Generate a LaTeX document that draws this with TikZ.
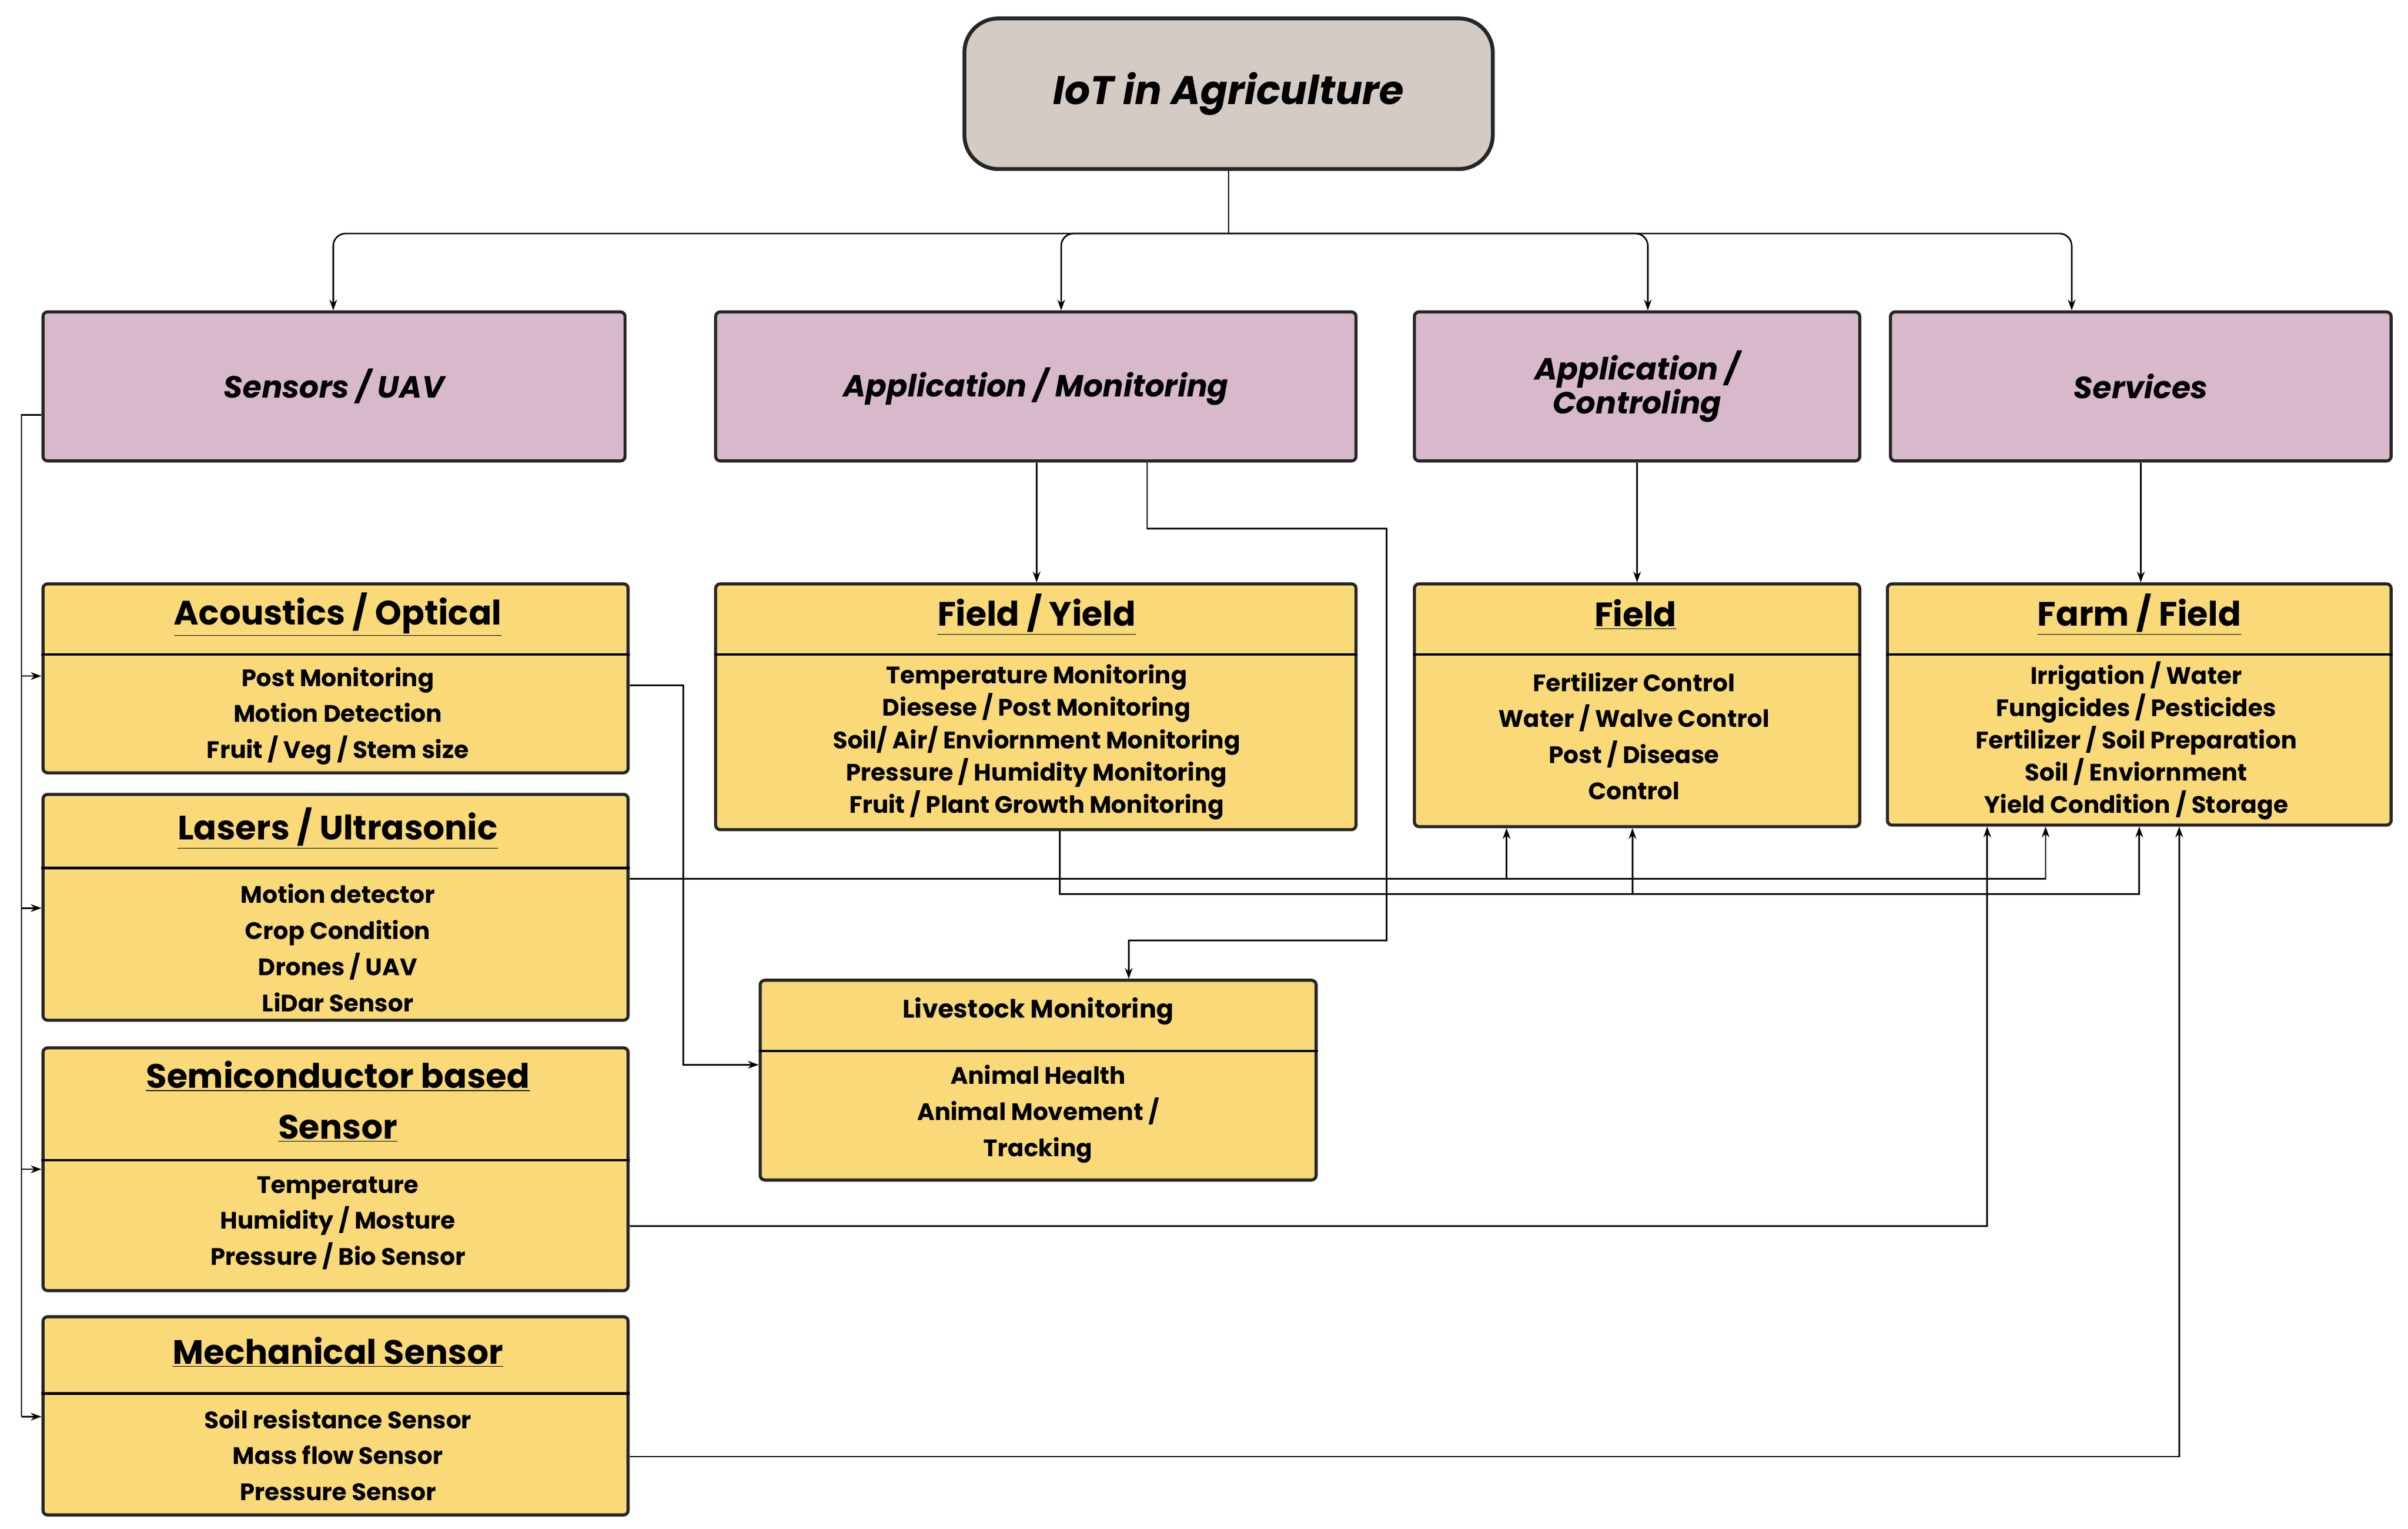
\documentclass[tikz,border=0pt]{standalone}
\usepackage{fontspec}
\setmainfont{Poppins}
\usetikzlibrary{arrows.meta}
\definecolor{yel}{HTML}{FAD978}
\definecolor{pur}{HTML}{D8B9CC}
\definecolor{gry}{HTML}{D3CBC4}
\begin{document}
\begin{tikzpicture}[x=1pt,y=-1pt,
 box/.style={draw=black!85,line width=2pt,rounded corners=3pt,inner sep=0},
 ybox/.style={box,fill=yel},
 pbox/.style={box,fill=pur},
 ptxt/.style={font=\fontsize{20}{22}\selectfont\bfseries\itshape,align=center},
 htxt/.style={font=\fontsize{22}{30}\selectfont\bfseries,align=center},
 btxt/.style={font=\fontsize{15.5}{23.5}\selectfont\bfseries,align=center},
 arr/.style={-{Stealth[length=7pt,width=5pt]},line width=1pt},
 ln/.style={line width=1pt}]
\useasboundingbox (0,0) rectangle (1568,995);
% root
\node[box,fill=gry,line width=2.5pt,rounded corners=22pt,minimum width=344,minimum height=98] (root) at (800,61) {};
\node[font=\fontsize{26}{28}\selectfont\bfseries\itshape] at (root) {IoT in Agriculture};
% purple
\node[pbox,minimum width=379,minimum height=97] (sen) at (217.5,251.5) {};
\node[ptxt] at (sen) {Sensors / UAV};
\node[pbox,minimum width=417,minimum height=97] (apm) at (674.5,251.5) {};
\node[ptxt] at (apm) {Application / Monitoring};
\node[pbox,minimum width=290,minimum height=97] (apc) at (1066,251.5) {};
\node[ptxt] at (apc) {Application /\\Controling};
\node[pbox,minimum width=326,minimum height=97] (srv) at (1394,251.5) {};
\node[ptxt] at (srv) {Services};
% yellow boxes
\node[ybox,minimum width=381,minimum height=123] (ac) at (218.5,441.5) {};
\draw[ln,line width=1.6pt] (ac.west |- 0,426) -- (ac.east |- 0,426);
\node[htxt] at (220,400) {\underline{Acoustics / Optical}};
\node[btxt] at (220,466) {Post Monitoring\\Motion Detection\\Fruit / Veg / Stem size};
\node[ybox,minimum width=381,minimum height=147] (lu) at (218.5,590.5) {};
\draw[ln,line width=1.6pt] (lu.west |- 0,565) -- (lu.east |- 0,565);
\node[htxt] at (220,539) {\underline{Lasers / Ultrasonic}};
\node[btxt] at (220,617) {Motion detector\\Crop Condition\\Drones / UAV\\LiDar Sensor};
\node[ybox,minimum width=381,minimum height=158] (sc) at (218.5,761) {};
\draw[ln,line width=1.6pt] (sc.west |- 0,755) -- (sc.east |- 0,755);
\node[htxt,font=\fontsize{22}{33}\selectfont\bfseries] at (220,717) {\underline{Semiconductor based}\\\underline{Sensor}};
\node[btxt] at (220,796) {Temperature\\Humidity / Mosture\\Pressure / Bio Sensor};
\node[ybox,minimum width=381,minimum height=129] (me) at (218.5,921.5) {};
\draw[ln,line width=1.6pt] (me.west |- 0,907) -- (me.east |- 0,907);
\node[htxt] at (220,880) {\underline{Mechanical Sensor}};
\node[btxt] at (220,947) {Soil resistance Sensor\\Mass flow Sensor\\Pressure Sensor};
\node[ybox,minimum width=417,minimum height=160] (fy) at (674.5,460) {};
\draw[ln,line width=1.6pt] (fy.west |- 0,426) -- (fy.east |- 0,426);
\node[htxt] at (675,400) {\underline{Field / Yield}};
\node[btxt,font=\fontsize{15.5}{21}\selectfont\bfseries] at (675,483) {Temperature Monitoring\\Diesese / Post Monitoring\\Soil/ Air/ Enviornment Monitoring\\Pressure / Humidity Monitoring\\Fruit / Plant Growth Monitoring};
\node[ybox,minimum width=290,minimum height=158] (fi) at (1066,459) {};
\draw[ln,line width=1.6pt] (fi.west |- 0,426) -- (fi.east |- 0,426);
\node[htxt] at (1065,400) {\underline{Field}};
\node[btxt] at (1064,479) {Fertilizer Control\\Water / Walve Control\\Post / Disease\\Control};
\node[ybox,minimum width=328,minimum height=157] (ff) at (1393,458.5) {};
\draw[ln,line width=1.6pt] (ff.west |- 0,426) -- (ff.east |- 0,426);
\node[htxt] at (1393,400) {\underline{Farm / Field}};
\node[btxt,font=\fontsize{15.5}{21}\selectfont\bfseries] at (1391,482) {Irrigation / Water\\Fungicides / Pesticides\\Fertilizer / Soil Preparation\\Soil / Enviornment\\Yield Condition / Storage};
\node[ybox,minimum width=362,minimum height=130] (lv) at (676,703) {};
\draw[ln,line width=1.6pt] (lv.west |- 0,684) -- (lv.east |- 0,684);
\node[btxt,font=\fontsize{16.5}{20}\selectfont\bfseries] at (676,658) {Livestock Monitoring};
\node[btxt] at (676,725) {Animal Health\\Animal Movement /\\Tracking};
% root branches
\coordinate (j) at (800,152);
\draw[ln] (root.south) -- (j);
\draw[arr,rounded corners=8pt] (j) -| (sen.north -| 217,0);
\draw[arr,rounded corners=8pt] (j) -| (apm.north -| 691,0);
\draw[arr,rounded corners=8pt] (j) -| (apc.north -| 1073,0);
\draw[arr,rounded corners=8pt] (j) -| (srv.north -| 1349,0);
% sensors bus
\draw[ln] (sen.west |- 0,270) -- (14,270) -- (14,922);
\draw[arr] (14,440) -- (ac.west |- 0,440);
\draw[arr] (14,591) -- (lu.west |- 0,591);
\draw[arr] (14,761) -- (sc.west |- 0,761);
\draw[arr] (14,922) -- (me.west |- 0,922);
% vertical
\draw[arr] (apm.south -| 675,0) -- (fy.north -| 675,0);
\draw[arr] (apc.south -| 1066,0) -- (fi.north -| 1066,0);
\draw[arr] (srv.south -| 1394,0) -- (ff.north -| 1394,0);
\draw[arr] (apm.south -| 747,0) -- (747,344) -- (903,344) -- (903,612) -- (735,612) -- (lv.north -| 735,0);
% acoustics to livestock
\draw[arr] (ac.east |- 0,446) -- (445,446) -- (445,693) -- (lv.west |- 0,693);
% lasers
\draw[arr] (lu.east |- 0,572) -- (1332,572) -- (ff.south -| 1332,0);
\draw[arr] (981,572) -- (fi.south -| 981,0);
% field/yield
\draw[arr] (fy.south -| 690,0) -- (690,582) -- (1393,582) -- (ff.south -| 1393,0);
\draw[arr] (1063,582) -- (fi.south -| 1063,0);
% semiconductor
\draw[arr] (sc.east |- 0,798) -- (1294,798) -- (ff.south -| 1294,0);
% mechanical
\draw[arr] (me.east |- 0,948) -- (1419,948) -- (ff.south -| 1419,0);
\end{tikzpicture}
\end{document}
